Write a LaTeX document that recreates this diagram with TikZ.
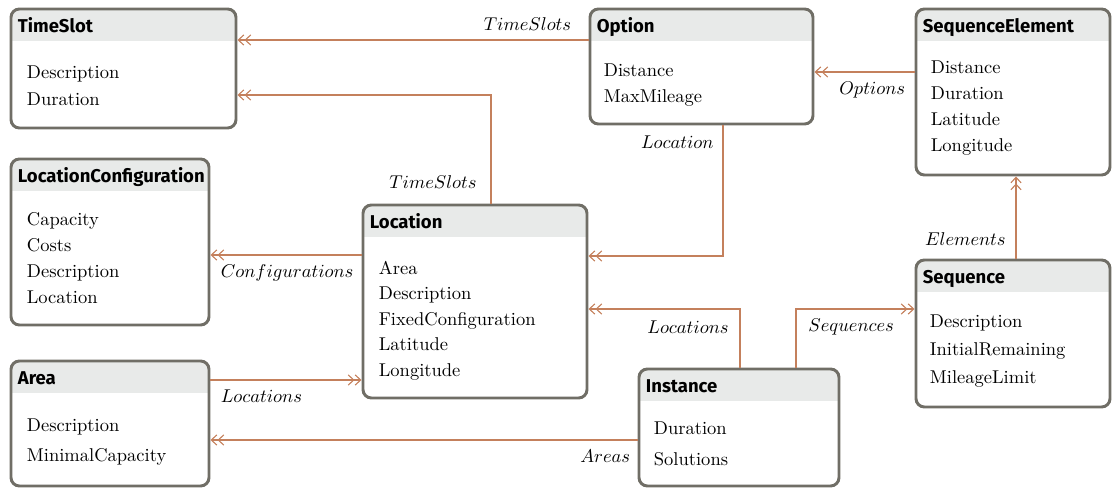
\documentclass[tikz,border=0pt]{standalone}
\usepackage{fontspec}
\newfontfamily\titlefont{Fira Sans}
\usetikzlibrary{arrows.meta,calc,fit}

\definecolor{boxgray}{RGB}{112,110,102}
\definecolor{headfill}{RGB}{232,234,233}
\definecolor{linkbrown}{RGB}{196,128,92}

\tikzset{
  entity/.style={draw=boxgray, line width=1.6pt, rounded corners=4.5pt, fill=white, inner sep=0pt,
    path picture={\fill[headfill, sharp corners] (path picture bounding box.north west) rectangle ([yshift=-17.4pt]path picture bounding box.north east);}},
  title/.style={anchor=base west, inner sep=0pt, font=\titlefont\bfseries},
  attrs/.style={anchor=north west, align=left, inner sep=0pt, font=\fontsize{10}{#1}\selectfont},
  attrs/.default=14,
  link/.style={draw=linkbrown, line width=0.6pt,
    -{Straight Barb[length=3pt,width=5.5pt]Straight Barb[length=3pt,width=5.5pt]}},
  lbl/.style={inner sep=0pt}
}

\begin{document}
\begin{tikzpicture}[x=0.54pt,y=-0.54pt]
\useasboundingbox (0,0) rectangle (1113,488);

% classes
\node[entity, fit={(11,9) (236,128)}] (timeslot) {};
\node[title] (timeslotT) at ($(timeslot.north west)+(8,25)$) {TimeSlot};
\node[attrs=14.5] (timeslotA) at ($(timeslot.north west)+(17,58)$) {Description\\Duration};

\node[entity, fit={(590,9) (813,124)}] (option) {};
\node[title] (optionT) at ($(option.north west)+(8,25)$) {Option};
\node[attrs=14] (optionA) at ($(option.north west)+(15,56)$) {Distance\\MaxMileage};

\node[entity, fit={(916,9) (1110,175)}] (seqelem) {};
\node[title] (seqelemT) at ($(seqelem.north west)+(8,25)$) {SequenceElement};
\node[attrs=14] (seqelemA) at ($(seqelem.north west)+(16,53)$) {Distance\\Duration\\Latitude\\Longitude};

\node[entity, fit={(11,159) (209,325)}] (lconf) {};
\node[title] (lconfT) at ($(lconf.north west)+(8,25)$) {LocationConfiguration};
\node[attrs=14] (lconfA) at ($(lconf.north west)+(17,55)$) {Capacity\\Costs\\Description\\Location};

\node[entity, fit={(363,205) (587,398)}] (location) {};
\node[title] (locationT) at ($(location.north west)+(8,25)$) {Location};
\node[attrs=13.8] (locationA) at ($(location.north west)+(17,57)$) {Area\\Description\\FixedConfiguration\\Latitude\\Longitude};

\node[entity, fit={(916,260) (1110,407)}] (sequence) {};
\node[title] (sequenceT) at ($(sequence.north west)+(8,25)$) {Sequence};
\node[attrs=15.1] (sequenceA) at ($(sequence.north west)+(15,56)$) {Description\\InitialRemaining\\MileageLimit};

\node[entity, fit={(11,361) (209,486)}] (area) {};
\node[title] (areaT) at ($(area.north west)+(8,25)$) {Area};
\node[attrs=16.2] (areaA) at ($(area.north west)+(17,59)$) {Description\\MinimalCapacity};

\node[entity, fit={(639,369) (839,486)}] (instance) {};
\node[title] (instanceT) at ($(instance.north west)+(8,25)$) {Instance};
\node[attrs=16.7] (instanceA) at ($(instance.north west)+(16,54)$) {Duration\\Solutions};

% associations
\coordinate (optW) at ($(option.west)+(0,-26.5)$);
\draw[link] (optW) -- (optW -| timeslot.east);
\node[lbl, anchor=south east] (optWL) at ($(optW)+(-17,-9)$) {$TimeSlots$};

\coordinate (locN) at ($(location.north)+(16,0)$);
\draw[link] (locN) |- ($(timeslot.east)+(0,26.5)$);
\node[lbl, anchor=east] (locNL) at ($(locN)+(-14,-21)$) {$TimeSlots$};

\coordinate (seqelemW) at ($(seqelem.west)+(0,-20)$);
\draw[link] (seqelemW) -- (seqelemW -| option.east);
\node[lbl, anchor=north east] (seqelemWL) at ($(seqelemW)+(-9,9)$) {$Options$};

\coordinate (optS) at ($(option.south)+(21.5,0)$);
\draw[link] (optS) |- ($(location.east)+(0,-45.5)$);
\node[lbl, anchor=east] (optSL) at ($(optS)+(-9,17)$) {$Location$};

\coordinate (locW) at ($(location.west)+(0,-46.5)$);
\draw[link] (locW) -- (locW -| lconf.east);
\node[lbl, anchor=north west] (locWL) at ($(locW -| lconf.east)+(10,9)$) {$Configurations$};

\coordinate (seqN) at ($(sequence.north)+(3,0)$);
\draw[link] (seqN) -- (seqN |- seqelem.south);
\node[lbl, anchor=east] (seqNL) at ($(seqN)+(-10,-19)$) {$Elements$};

\coordinate (instN) at ($(instance.north)+(1,0)$);
\draw[link] (instN) |- ($(location.east)+(0,7.5)$);
\node[lbl, anchor=east] (instNL) at ($(instN)+(-11,-40)$) {$Locations$};

\coordinate (instNb) at ($(instance.north)+(57,0)$);
\draw[link] (instNb) |- ($(sequence.west)+(0,-24.5)$);
\node[lbl, anchor=west] (instNbL) at ($(instNb)+(12,-41)$) {$Sequences$};

\coordinate (areaE) at ($(area.east)+(0,-43.5)$);
\draw[link] (areaE) -- (areaE -| location.west);
\node[lbl, anchor=north west] (areaEL) at ($(areaE)+(10,9)$) {$Locations$};

\coordinate (instW) at ($(instance.west)+(0,12.5)$);
\draw[link] (instW) -- (instW -| area.east);
\node[lbl, anchor=north east] (instWL) at ($(instW)+(-7,9)$) {$Areas$};
\end{tikzpicture}
\end{document}
